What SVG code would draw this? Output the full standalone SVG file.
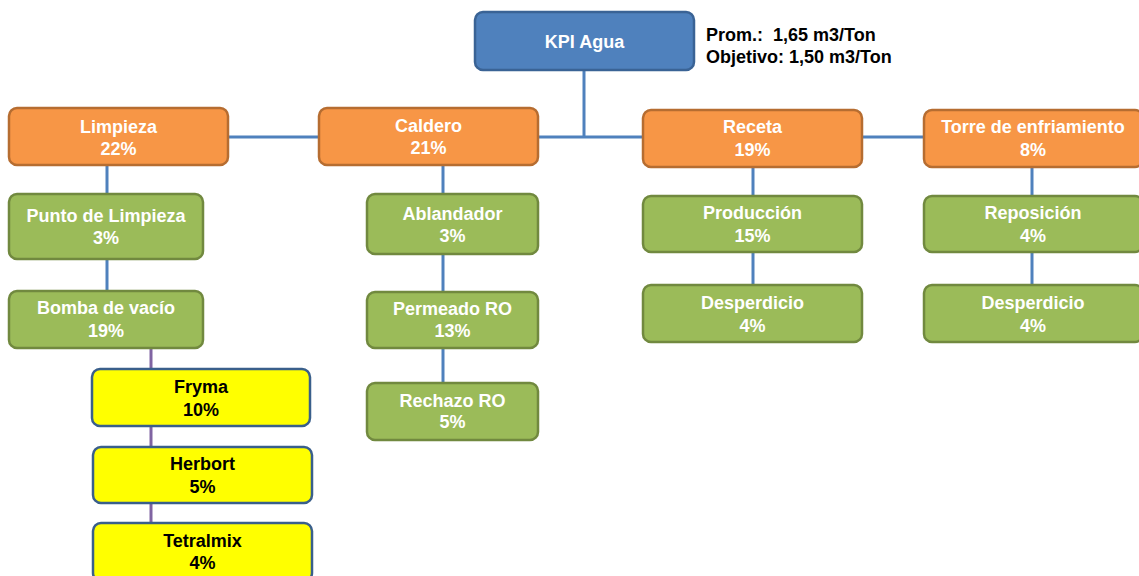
<svg xmlns="http://www.w3.org/2000/svg" width="1139" height="576" viewBox="0 0 1139 576">
<style>
.n{stroke-width:2.5}
.blue{fill:#4F81BD;stroke:#3A6395}
.org{fill:#F79646;stroke:#B66D31}
.grn{fill:#9BBB59;stroke:#71893F}
.yel{fill:#FFFF00;stroke:#3A5F8B}
text{font-family:"Liberation Sans",Arial,sans-serif;font-weight:bold;font-size:18px;text-anchor:middle}
.w{fill:#FFFFFF}
.k{fill:#000000}
.c{fill:none;stroke:#4F81BD;stroke-width:3}
.p{fill:none;stroke:#8064A2;stroke-width:3}
.note{text-anchor:start;font-size:18px;fill:#000000}
</style>
<rect width="1139" height="576" fill="#FFFFFF"/>
<g id="connectors">
<path class="c" d="M584 70V137"/>
<path class="c" d="M228 137H924"/>
<path class="c" d="M107 165V291"/>
<path class="p" d="M151 348V523"/>
<path class="c" d="M443 165V383"/>
<path class="c" d="M753 167V285"/>
<path class="c" d="M1032 167V285"/>
</g>
<g id="kpi"><rect class="n blue" x="475" y="12" width="219" height="58" rx="8"/><text class="w" x="584.5" y="48">KPI Agua</text></g>
<g id="note"><text class="note" x="706" y="41" xml:space="preserve">Prom.:  1,65 m3/Ton</text><text class="note" x="706" y="63">Objetivo: 1,50 m3/Ton</text></g>
<g id="limpieza"><rect class="n org" x="9" y="108" width="219" height="57" rx="8"/><text class="w" x="118.5" y="133">Limpieza</text><text class="w" x="118.5" y="155">22%</text></g>
<g id="caldero"><rect class="n org" x="319" y="108" width="219" height="57" rx="8"/><text class="w" x="428.5" y="132">Caldero</text><text class="w" x="428.5" y="154">21%</text></g>
<g id="receta"><rect class="n org" x="643" y="110" width="219" height="57" rx="8"/><text class="w" x="752.5" y="133">Receta</text><text class="w" x="752.5" y="156">19%</text></g>
<g id="torre"><rect class="n org" x="924" y="110" width="219" height="57" rx="8"/><text class="w" x="1033" y="133">Torre de enfriamiento</text><text class="w" x="1033" y="156">8%</text></g>
<g id="punto"><rect class="n grn" x="9" y="194" width="194" height="65" rx="8"/><text class="w" x="106" y="222">Punto de Limpieza</text><text class="w" x="106" y="244">3%</text></g>
<g id="bomba"><rect class="n grn" x="9" y="291" width="194" height="57" rx="8"/><text class="w" x="106" y="314">Bomba de vacío</text><text class="w" x="106" y="337">19%</text></g>
<g id="fryma"><rect class="n yel" x="92" y="369" width="218" height="57" rx="8"/><text class="k" x="201" y="393">Fryma</text><text class="k" x="201" y="416">10%</text></g>
<g id="herbort"><rect class="n yel" x="93" y="447" width="219" height="56" rx="8"/><text class="k" x="202.5" y="470">Herbort</text><text class="k" x="202.5" y="493">5%</text></g>
<g id="tetralmix"><rect class="n yel" x="93" y="523" width="219" height="58" rx="8"/><text class="k" x="202.5" y="547">Tetralmix</text><text class="k" x="202.5" y="569">4%</text></g>
<g id="ablandador"><rect class="n grn" x="367" y="194" width="171" height="60" rx="8"/><text class="w" x="452.5" y="220">Ablandador</text><text class="w" x="452.5" y="242">3%</text></g>
<g id="permeado"><rect class="n grn" x="367" y="292" width="171" height="56" rx="8"/><text class="w" x="452.5" y="315">Permeado RO</text><text class="w" x="452.5" y="337">13%</text></g>
<g id="rechazo"><rect class="n grn" x="367" y="383" width="171" height="57" rx="8"/><text class="w" x="452.5" y="407">Rechazo RO</text><text class="w" x="452.5" y="428">5%</text></g>
<g id="produccion"><rect class="n grn" x="643" y="196" width="219" height="56" rx="8"/><text class="w" x="752.5" y="219">Producción</text><text class="w" x="752.5" y="242">15%</text></g>
<g id="desperdicio1"><rect class="n grn" x="643" y="285" width="219" height="57" rx="8"/><text class="w" x="752.5" y="309">Desperdicio</text><text class="w" x="752.5" y="332">4%</text></g>
<g id="reposicion"><rect class="n grn" x="924" y="196" width="219" height="56" rx="8"/><text class="w" x="1033" y="219">Reposición</text><text class="w" x="1033" y="242">4%</text></g>
<g id="desperdicio2"><rect class="n grn" x="924" y="285" width="219" height="57" rx="8"/><text class="w" x="1033" y="309">Desperdicio</text><text class="w" x="1033" y="332">4%</text></g>
</svg>
